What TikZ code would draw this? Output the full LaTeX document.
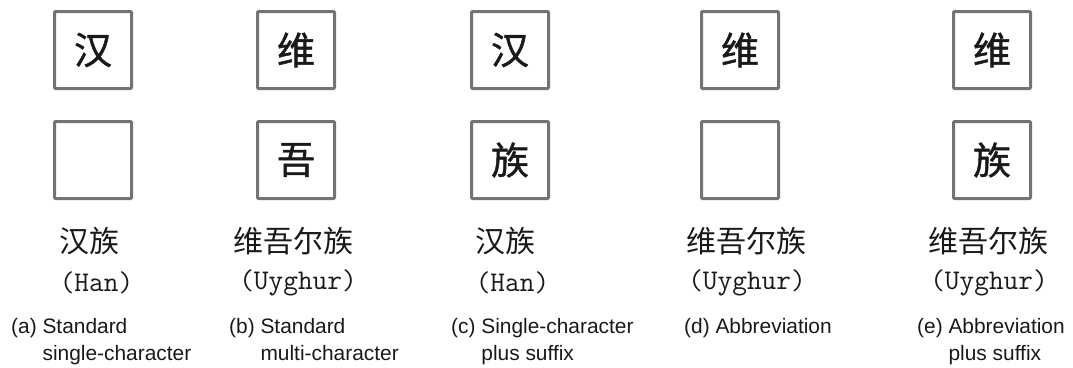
\documentclass[tikz,border=0pt]{standalone}
\usepackage{fontspec}
\setmainfont{Liberation Sans}
\newfontfamily\cjk{Noto Sans CJK SC}
\newfontfamily\cjkm{Noto Sans CJK SC}[FakeBold=1.2]
\definecolor{boxgray}{RGB}{115,115,115}
\definecolor{inkc}{RGB}{25,25,25}
\tikzset{
  charbox/.style={draw=boxgray, line width=3pt, minimum size=77pt, inner sep=0pt, rounded corners=1pt,
    font=\cjkm\fontsize{38}{38}\selectfont, text=inkc},
  cnlabel/.style={inner sep=0pt, font=\cjk\fontsize{30}{30}\selectfont, text=inkc},
  enlabel/.style={inner sep=0pt, font=\ttfamily\fontsize{28.5}{28.5}\selectfont, text=inkc},
  caption/.style={inner sep=0pt, anchor=north west, align=left, font=\fontsize{20.9}{27}\selectfont, text=inkc}
}
\begin{document}
\begin{tikzpicture}[x=1pt,y=-1pt]
\useasboundingbox (0,0) rectangle (1073,367);
% column a
\node[charbox] (a1) at (93,50) {汉};
\node[charbox] (a2) at (93,160) {};
\node[cnlabel] (al) at (89,241.5) {汉族};
\node[enlabel] (ae) at (96.5,282.5) {(Han)};
\node[caption] (ac) at (11,318) {(a) Standard\\\hphantom{(a) }single-character};
% column b
\node[charbox] (b1) at (296,50) {维};
\node[charbox] (b2) at (296,160) {吾};
\node[cnlabel] (bl) at (293,241.5) {维吾尔族};
\node[enlabel] (be) at (298,282.5) {(Uyghur)};
\node[caption] (bc) at (229,318) {(b) Standard\\\hphantom{(b) }multi-character};
% column c
\node[charbox] (c1) at (510,50) {汉};
\node[charbox] (c2) at (510,160) {族};
\node[cnlabel] (cl) at (505,241.5) {汉族};
\node[enlabel] (ce) at (512.5,282.5) {(Han)};
\node[caption] (cc) at (451,318) {(c) Single-character\\\hphantom{(c) }plus suffix};
% column d
\node[charbox] (d1) at (740,50) {维};
\node[charbox] (d2) at (740,160) {};
\node[cnlabel] (dl) at (746,241.5) {维吾尔族};
\node[enlabel] (de) at (747,282.5) {(Uyghur)};
\node[caption] (dc) at (684,318) {(d) Abbreviation};
% column e
\node[charbox] (e1) at (992,50) {维};
\node[charbox] (e2) at (992,160) {族};
\node[cnlabel] (el) at (988,241.5) {维吾尔族};
\node[enlabel] (ee) at (989,282.5) {(Uyghur)};
\node[caption] (ec) at (917,318) {(e) Abbreviation\\\hphantom{(e) }plus suffix};
\end{tikzpicture}
\end{document}
